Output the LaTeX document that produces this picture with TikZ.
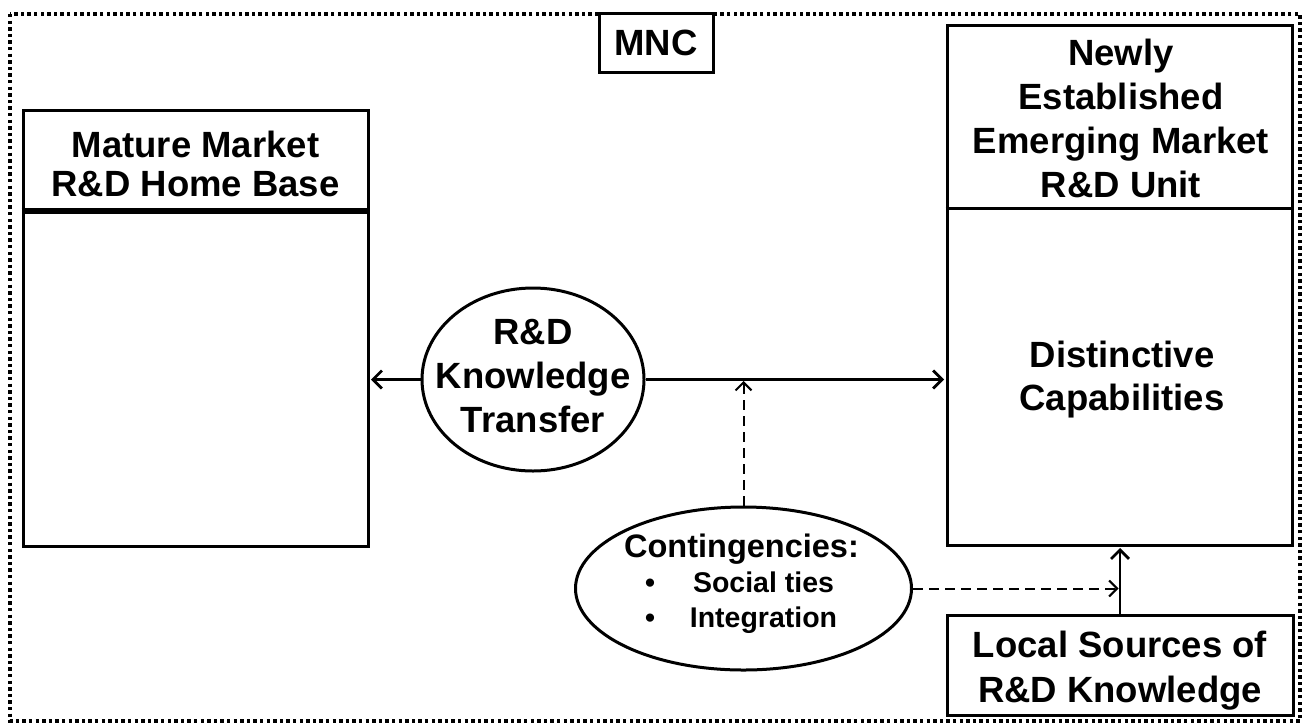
\documentclass[tikz,border=0pt]{standalone}
\usepackage{fontspec}
\setmainfont{Liberation Sans}
\usetikzlibrary{shapes.geometric,arrows.meta}

\begin{document}
\begin{tikzpicture}[x=1pt,y=-1pt,
  box/.style={draw,line width=3pt,rectangle,inner sep=0pt},
  oval/.style={draw,line width=3pt,ellipse,inner sep=0pt},
  big/.style={font=\fontsize{36.5}{44}\selectfont\bfseries,align=center,inner sep=0pt},
  listitem/.style={font=\fontsize{28.5}{35}\selectfont\bfseries,anchor=base,inner sep=0pt},
  flow/.style={line width=2.7pt,shorten >=1.5pt,-{Straight Barb[length=9pt,width=18pt]}},
  influence/.style={line width=2pt,dash pattern=on 10pt off 6pt,shorten >=1.5pt,-{Straight Barb[length=8pt,width=16pt]}},
  frame/.style={line width=3.2pt,dash pattern=on 3.4pt off 3.2pt}
]
\fill[white] (0,0) rectangle (1305,724);
\useasboundingbox (0,0) rectangle (1305,724);

% dotted boundary of the firm
\draw[frame] (10,14) rectangle (1300,721);
\node[box,fill=white,minimum width=114pt,minimum height=59pt,
      font=\fontsize{36.5}{44}\selectfont\bfseries] (mnc) at (656,42.5) {MNC};

% home base
\node[box,minimum width=345pt,minimum height=436pt] (home) at (195.5,328) {};
\draw[line width=6pt] ([yshift=-102.5pt]home.north west) -- ([yshift=-102.5pt]home.north east);
\node[big,font=\fontsize{36.5}{39}\selectfont\bfseries] (homehead) at (195.5,164)
  {Mature Market\\R\&D Home Base};

% emerging market unit
\node[box,minimum width=345pt,minimum height=520pt] (unit) at (1119.5,285) {};
\draw[line width=3pt] ([yshift=-185pt]unit.north west) -- ([yshift=-185pt]unit.north east);
\node[big] (unithead) at (1121,118)
  {Newly\\Established\\Emerging Market\\R\&D Unit};
\node[big,font=\fontsize{36.5}{43}\selectfont\bfseries] (capab) at (1122,379.5)
  {Distinctive\\Capabilities};

% knowledge transfer
\node[oval,minimum width=222pt,minimum height=183pt] (kt) at (533,379.5) {};
\node[big] (kttext) at ([yshift=3pt]kt.center) {R\&D\\Knowledge\\Transfer};

% contingencies
\node[oval,minimum width=336pt,minimum height=163pt] (cont) at (743.5,588.5) {};
\node[font=\fontsize{32.5}{36}\selectfont\bfseries,anchor=base,inner sep=0pt] (conthead)
  at (741.5,557) {Contingencies:};
\node[listitem] (b1) at (650,592) {•};
\node[listitem] (ties) at (763.5,592) {Social ties};
\node[listitem] (b2) at (650,627) {•};
\node[listitem] (integ) at (763.5,627) {Integration};

% local sources
\node[box,minimum width=346pt,minimum height=100pt] (local) at (1120,665) {};
\node[big,font=\fontsize{36.5}{45}\selectfont\bfseries] (localtext) at (1120,670.5)
  {Local Sources of\\R\&D Knowledge};

% connectors
\draw[flow] (kt.west) -- (kt.west -| home.east);
\draw[flow] (kt.east) -- (kt.east -| unit.west);
\coordinate (joinA) at (cont.north |- kt.east);
\draw[influence] (cont.north) -- (joinA);
\draw[flow] (local.north) -- (local.north |- unit.south);
\coordinate (joinB) at (local.north |- cont.east);
\draw[influence] (cont.east) -- (joinB);
\end{tikzpicture}
\end{document}
